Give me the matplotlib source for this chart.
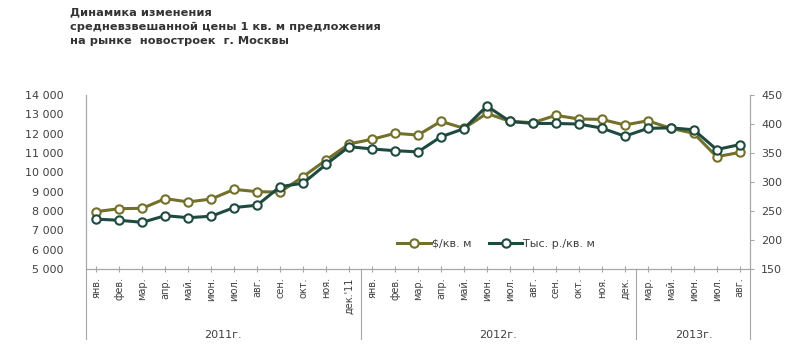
import matplotlib
matplotlib.use("Agg")
import matplotlib.pyplot as plt
import matplotlib.transforms as mtransforms

plt.rcParams["font.family"] = ["DejaVu Sans"]

# Month labels (2011: 12, 2012: 12, 2013: 5)
months = [
    "янв.", "фев.", "мар.", "апр.", "май.", "июн.", "июл.", "авг.", "сен.", "окт.", "ноя.", "дек.'11",
    "янв.", "фев.", "мар.", "апр.", "май.", "июн.", "июл.", "авг.", "сен.", "окт.", "ноя.", "дек.",
    "мар.", "май.", "июн.", "июл.", "авг.",
]
years = ["2011г.", "2012г.", "2013г."]
year_sizes = [12, 12, 5]

# $/кв. м (left axis)
usd = [
    7970, 8120, 8140, 8640, 8470, 8620, 9120, 9000, 8980, 9780, 10640, 11470,
    11710, 12020, 11930, 12640, 12280, 13050, 12640, 12570, 12950, 12760, 12740, 12450,
    12670, 12280, 12020, 10810, 11030,
]
# Тыс. р./кв. м (right axis)
rub = [
    236, 234, 230.5, 242, 238.5, 241, 256, 260, 292, 298, 330.5, 361,
    357, 354, 352, 378, 392, 431, 404.5, 401, 401, 400, 393, 379,
    392.5, 393.5, 390, 356, 364.5,
]

olive = "#72702a"
dark = "#1f4a40"
gray = "#a6a6a6"
txt = "#404040"

fig = plt.figure(figsize=(8, 3.52), dpi=100)
ax = fig.add_axes([0.1075, 0.2358, 0.83, 0.4942])
ax2 = ax.twinx()

x = list(range(len(months)))
marker_kw = dict(marker="o", markersize=6, markerfacecolor="white", markeredgewidth=1.5)
l1, = ax.plot(x, usd, color=olive, lw=2.2, markeredgecolor=olive, label="$/кв. м", **marker_kw)
l2, = ax2.plot(x, rub, color=dark, lw=2.2, markeredgecolor=dark, label="Тыс. р./кв. м", **marker_kw)

ax.set_xlim(-0.45, len(months) - 0.55)
ax.set_ylim(5000, 14000)
ax2.set_ylim(150, 450)

yt = list(range(5000, 14001, 1000))
ax.set_yticks(yt)
ax.set_yticklabels([f"{v:,}".replace(",", " ") for v in yt], fontsize=8, color=txt)
ax.tick_params(axis="y", length=0, pad=16)
ax2.set_yticks(range(150, 451, 50))
ax2.tick_params(axis="y", length=3, pad=5, colors=gray, labelsize=8, labelcolor=txt)

ax.set_xticks(x)
ax.set_xticklabels(months, rotation=90, fontsize=7, color=txt)
ax.tick_params(axis="x", direction="inout", length=4, pad=4, colors=gray, labelcolor=txt)

for a in (ax, ax2):
    a.spines["top"].set_visible(False)
    for s in ("left", "right", "bottom"):
        a.spines[s].set_color(gray)
        a.spines[s].set_linewidth(0.8)

# year group separators and labels below the axis
trans = mtransforms.blended_transform_factory(ax.transData, ax.transAxes)
lo, hi = ax.get_xlim()
edges = [lo]
start = -0.5
centers = []
for n in year_sizes:
    centers.append(start + n / 2)
    start += n
    edges.append(start)
edges[-1] = hi
for e in edges:
    ax.plot([e, e], [0, -0.4], transform=trans, color=gray, lw=0.8, clip_on=False)
for c, y in zip(centers, years):
    ax.text(c, -0.38, y, transform=trans, ha="center", va="center", fontsize=8, color=txt)

leg = fig.legend(handles=[l1, l2], loc="center left", bbox_to_anchor=(0.484, 0.307),
                 ncol=2, frameon=False, fontsize=8, handlelength=3, handletextpad=0.1,
                 columnspacing=1.6)
for t in leg.get_texts():
    t.set_color(txt)

fig.text(0.087, 0.98, "Динамика изменения\nсредневзвешанной цены 1 кв. м предложения\nна рынке  новостроек  г. Москвы",
         ha="left", va="top", fontsize=8.2, fontweight="bold", color="#333333", linespacing=1.55)

fig.savefig("out.png", dpi=100)
